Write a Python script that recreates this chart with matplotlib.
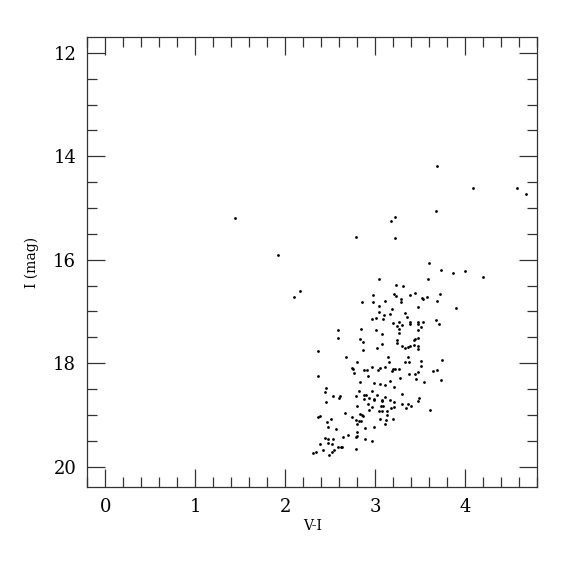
import matplotlib
matplotlib.use("Agg")
import matplotlib.pyplot as plt
from matplotlib.ticker import MultipleLocator

# V-I colour and I magnitude
vi = [1.44, 1.92, 2.10, 2.16, 2.79, 3.17, 3.22, 3.22, 3.67, 3.69, 4.09, 4.57, 4.67,
      3.60, 3.73, 3.86, 4.00, 4.20, 3.04, 3.59, 3.23, 3.31,
      2.97, 3.21, 3.23, 3.28, 3.38, 3.44, 3.52, 3.53, 3.57, 3.72,
      2.85, 2.97, 3.11, 3.28, 3.69, 3.47, 3.90, 3.04, 3.18, 3.33,
      3.04, 3.16, 3.10, 3.35, 3.01, 2.96, 3.09, 3.20, 3.26, 3.38,
      3.47, 3.53, 3.67, 3.71, 3.24, 3.30, 3.38, 3.47, 3.51, 2.59,
      2.84, 3.01, 3.26, 3.07, 3.26, 3.47, 2.59, 2.83, 2.86, 3.24,
      3.24, 3.44, 3.47, 3.43, 3.07, 3.30, 3.33, 3.36, 3.39, 3.43,
      3.47, 3.47, 3.02, 2.86, 2.36, 2.67, 2.80, 3.14, 3.15, 3.36,
      3.33, 3.37, 3.51, 3.51, 3.74, 2.74, 2.75, 2.87, 2.91, 2.96,
      3.05, 3.11, 3.03, 3.20, 3.22, 3.19, 3.26, 3.37, 3.44, 3.47,
      3.64, 3.69, 2.76, 2.92, 3.27, 2.36, 2.83, 2.99, 3.05, 3.11,
      3.16, 3.21, 3.45, 3.54, 3.73, 2.45, 2.44, 2.82, 2.96, 2.53,
      2.61, 2.60, 2.79, 2.87, 2.90, 3.02, 2.93, 2.98, 2.99, 3.07,
      3.11, 3.16, 3.30, 3.48, 3.47, 2.45, 2.80, 2.87, 2.92, 2.96,
      3.07, 3.08, 3.06, 3.21, 3.21, 3.17, 3.30, 3.34, 3.36, 3.40,
      3.61, 3.04, 3.07, 2.93, 3.13, 2.66, 2.83, 2.85, 2.86, 2.74,
      2.78, 2.82, 2.84, 2.80, 3.05, 3.13, 3.12, 3.20, 3.11, 2.36,
      2.39, 2.51, 2.46, 2.47, 2.56, 2.88, 2.98, 2.44, 2.47, 2.53,
      2.64, 2.70, 2.79, 2.80, 2.80, 2.89, 2.96, 2.38, 2.47, 2.52,
      2.59, 2.62, 2.63, 2.42, 2.54, 2.52, 2.34, 2.31, 2.48, 2.79]
imag = [15.19, 15.91, 16.73, 16.61, 15.56, 15.26, 15.18, 15.58, 15.06, 14.18, 14.61, 14.62, 14.73,
        16.06, 16.20, 16.25, 16.22, 16.33, 16.37, 16.37, 16.49, 16.51,
        16.69, 16.67, 16.71, 16.75, 16.68, 16.65, 16.74, 16.76, 16.73, 16.67,
        16.81, 16.82, 16.80, 16.82, 16.79, 16.91, 16.93, 16.90, 16.96, 17.03,
        17.02, 17.04, 17.07, 17.10, 17.12, 17.15, 17.15, 17.23, 17.20, 17.21,
        17.21, 17.20, 17.17, 17.25, 17.29, 17.27, 17.24, 17.24, 17.30, 17.35,
        17.34, 17.36, 17.33, 17.43, 17.41, 17.36, 17.51, 17.54, 17.60, 17.55,
        17.61, 17.53, 17.52, 17.56, 17.62, 17.66, 17.71, 17.69, 17.66, 17.65,
        17.67, 17.73, 17.71, 17.75, 17.76, 17.89, 17.98, 17.89, 17.97, 17.89,
        17.98, 17.98, 17.96, 18.05, 17.93, 18.09, 18.11, 18.14, 18.13, 18.07,
        18.09, 18.07, 18.14, 18.11, 18.11, 18.16, 18.11, 18.20, 18.20, 18.18,
        18.16, 18.14, 18.19, 18.24, 18.28, 18.25, 18.36, 18.38, 18.40, 18.42,
        18.35, 18.46, 18.31, 18.36, 18.33, 18.48, 18.56, 18.53, 18.53, 18.63,
        18.64, 18.67, 18.63, 18.62, 18.62, 18.61, 18.68, 18.70, 18.71, 18.71,
        18.65, 18.72, 18.60, 18.67, 18.73, 18.76, 18.82, 18.70, 18.78, 18.84,
        18.74, 18.82, 18.83, 18.76, 18.84, 18.86, 18.78, 18.86, 18.79, 18.83,
        18.90, 18.93, 18.93, 18.91, 18.93, 18.97, 18.99, 19.00, 19.03, 19.05,
        19.09, 19.11, 19.11, 19.18, 19.07, 19.01, 19.09, 19.08, 19.18, 19.05,
        19.03, 19.07, 19.13, 19.23, 19.27, 19.26, 19.23, 19.44, 19.46, 19.46,
        19.42, 19.38, 19.42, 19.34, 19.40, 19.46, 19.50, 19.56, 19.54, 19.56,
        19.63, 19.63, 19.63, 19.67, 19.67, 19.71, 19.71, 19.74, 19.77, 19.65]

plt.rcParams['font.family'] = ['DejaVu Serif']

fig = plt.figure(figsize=(5.75, 5.75), dpi=100)
ax = fig.add_axes([87.3 / 575, 1 - 487.3 / 575, 450 / 575, 450 / 575])

ax.plot(vi, imag, 'o', color='black', ms=2.0, mew=0)

ax.set_xlim(-0.2, 4.8)
ax.set_ylim(20.4, 11.7)
ax.xaxis.set_major_locator(MultipleLocator(1))
ax.xaxis.set_minor_locator(MultipleLocator(0.2))
ax.yaxis.set_major_locator(MultipleLocator(2))
ax.yaxis.set_minor_locator(MultipleLocator(0.5))
ax.tick_params(which='both', direction='in', top=True, right=True, width=0.9, color='#333333')
ax.tick_params(which='major', length=13, labelsize=13, pad=8)
ax.tick_params(which='minor', length=7)
for s in ax.spines.values():
    s.set_color('#333333')
    s.set_linewidth(0.9)

ax.set_xlabel('V-I', fontsize=10, labelpad=2)
ax.set_ylabel('I (mag)', fontsize=10, labelpad=10)

fig.savefig('out.png', dpi=100)
